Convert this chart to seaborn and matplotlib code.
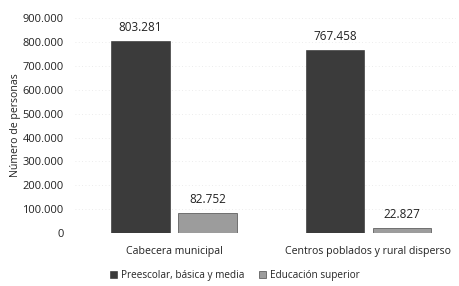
import matplotlib
matplotlib.use("Agg")
import matplotlib.pyplot as plt
import matplotlib.ticker as ticker
import pandas as pd
import seaborn as sns

# data
zonas = ["Cabecera municipal", "Centros poblados y rural disperso"]
niveles = ["Preescolar, básica y media", "Educación superior"]
preescolar = [803281, 767458]
superior = [82752, 22827]
colores = ["#3b3b3b", "#9c9c9c"]

df = pd.DataFrame({
    "zona": zonas * 2,
    "nivel": [niveles[0]] * 2 + [niveles[1]] * 2,
    "personas": preescolar + superior,
})

sns.set_style("white")
plt.rcParams["font.family"] = ["Open Sans", "DejaVu Sans"]

fig = plt.figure(figsize=(4.59, 2.86), dpi=100)
ax = fig.add_axes([0.163, 0.185, 0.83, 0.752])

sns.barplot(data=df, x="zona", y="personas", hue="nivel", order=zonas,
            hue_order=niveles, palette=colores, width=0.69, gap=0.13,
            edgecolor="#2a2a2a", linewidth=0.4, ax=ax)

ax.set_ylim(0, 900000)
ax.set_xlim(-0.51, 1.45)
ax.yaxis.set_major_locator(ticker.MultipleLocator(100000))
ax.yaxis.set_major_formatter(ticker.FuncFormatter(
    lambda v, p: "0" if v == 0 else "{:,.0f}".format(v).replace(",", ".")))
ax.grid(axis="y", color="#e6e6e6", linestyle=(0, (1, 3)), linewidth=0.6)
ax.set_axisbelow(True)
for s in ax.spines.values():
    s.set_visible(False)
ax.tick_params(axis="both", length=0, labelsize=8, colors="#222222")
ax.tick_params(axis="y", pad=8)
ax.tick_params(axis="x", pad=9, labelsize=7.6)

for cont in ax.containers:
    labels = ["{:,.0f}".format(b.get_height()).replace(",", ".") for b in cont]
    ax.bar_label(cont, labels=labels, padding=5, fontsize=8.5, color="#222222")

ax.set_xlabel("")
ax.set_ylabel("Número de personas", fontsize=7.6, color="#222222", labelpad=1)

ax.legend(loc="upper center", bbox_to_anchor=(0.42, -0.13), ncol=2,
          frameon=False, fontsize=7.2, handlelength=0.7, handleheight=0.7,
          columnspacing=1.4, handletextpad=0.4)

plt.savefig("out.png", dpi=100)
plt.close(fig)
